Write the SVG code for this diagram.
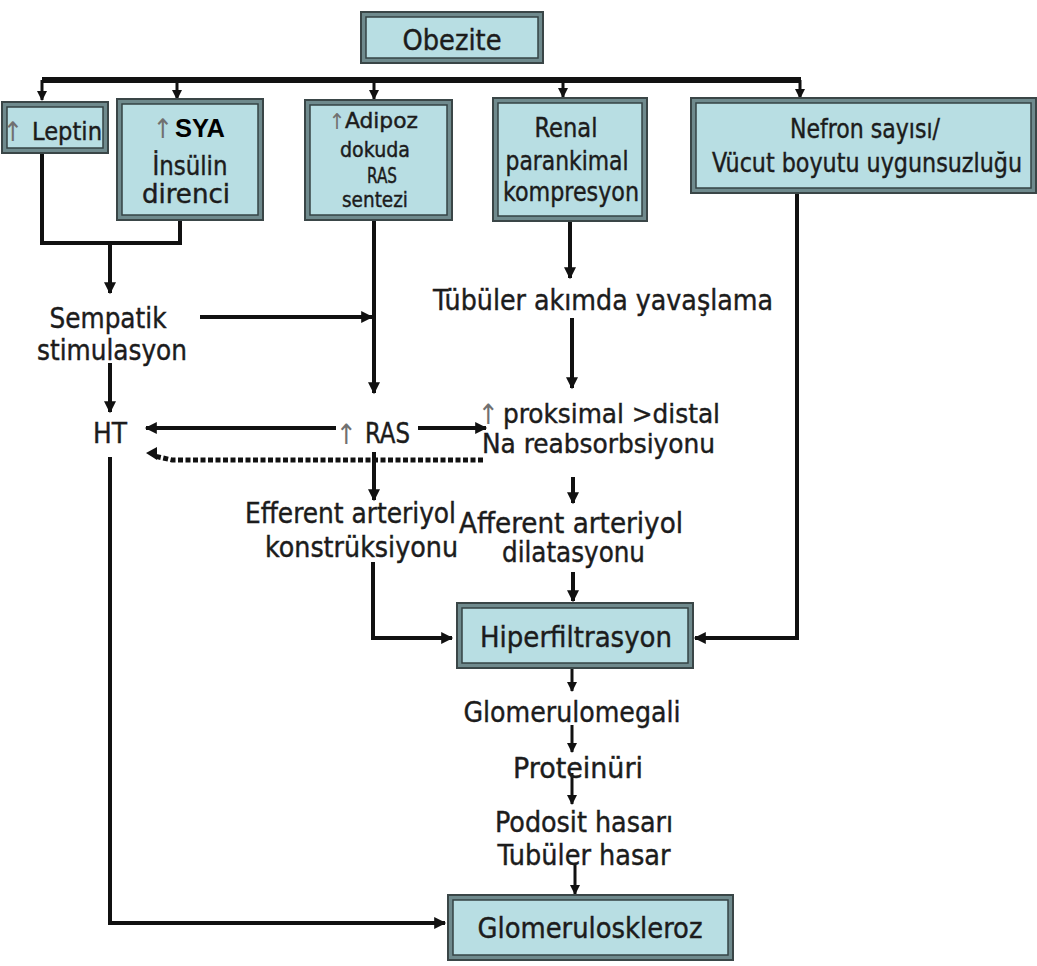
<svg xmlns="http://www.w3.org/2000/svg" width="1037" height="966" viewBox="0 0 1037 966">
<defs>
<style>
.bo{fill:#6f8a8d;stroke:#3a4647;stroke-width:2}
.bi{fill:#b8dee3;stroke:#354344;stroke-width:1.5}
.t{font-family:"DejaVu Sans Condensed","DejaVu Sans",sans-serif;fill:#1c1c1c;stroke:#1c1c1c;stroke-width:0.4;text-anchor:middle}
.s{text-anchor:start}
.up{font-family:"DejaVu Sans Condensed","DejaVu Sans",sans-serif;fill:#707070;text-anchor:middle}
.ln{fill:none;stroke:#111;stroke-width:4}
.lt{fill:none;stroke:#111;stroke-width:3}
.dot{fill:none;stroke:#111;stroke-width:5;stroke-dasharray:5 2.5}
</style>
<marker id="ah" viewBox="0 0 10 10" refX="9" refY="5" markerWidth="13" markerHeight="12" markerUnits="userSpaceOnUse" orient="auto"><path d="M0,0 L10,5 L0,10 z" fill="#111"/></marker>
<marker id="as" viewBox="0 0 10 10" refX="9" refY="5" markerWidth="10" markerHeight="10" markerUnits="userSpaceOnUse" orient="auto"><path d="M0,0 L10,5 L0,10 z" fill="#111"/></marker>
</defs>
<rect width="1037" height="966" fill="#fff"/>

<g id="connectors">
<path class="ln" d="M42,80 H801" style="stroke-width:6"/>
<path class="lt" d="M42,80 V100" marker-end="url(#as)"/>
<path class="lt" d="M177,80 V99" marker-end="url(#as)"/>
<path class="lt" d="M374,80 V99" marker-end="url(#as)"/>
<path class="lt" d="M563,80 V97" marker-end="url(#as)"/>
<path class="lt" d="M800,80 V98" marker-end="url(#as)"/>
<path class="ln" d="M42,153 V243 H180 V219"/>
<path class="ln" d="M110,243 V293" marker-end="url(#ah)"/>
<path class="ln" d="M200,317 H372" marker-end="url(#ah)"/>
<path class="ln" d="M374,219 V393" marker-end="url(#ah)"/>
<path class="ln" d="M110,363 V412" marker-end="url(#ah)"/>
<path class="ln" d="M336,428 H146" marker-end="url(#ah)"/>
<path class="ln" d="M418,428 H486" marker-end="url(#ah)"/>
<path class="dot" d="M483,460 H172 L154,456"/>
<path d="M146,453 L157,447 L157,460 z" fill="#111"/>
<path class="ln" d="M374,452 V500" marker-end="url(#ah)"/>
<path class="ln" d="M373,562 V638 H452" marker-end="url(#ah)"/>
<path class="ln" d="M570,221 V278" marker-end="url(#ah)"/>
<path class="ln" d="M572,318 V388" marker-end="url(#ah)"/>
<path class="ln" d="M573,477 V503" marker-end="url(#ah)"/>
<path class="ln" d="M573,572 V601" marker-end="url(#ah)"/>
<path class="ln" d="M797,193 V638 H695" marker-end="url(#ah)"/>
<path class="lt" d="M572,668 V691" marker-end="url(#as)"/>
<path class="lt" d="M572,725 V752" marker-end="url(#as)"/>
<path class="lt" d="M572,773 V804" marker-end="url(#as)"/>
<path class="lt" d="M575,863 V894" marker-end="url(#as)"/>
<path class="ln" d="M110,457 V923 H445" marker-end="url(#ah)"/>
</g>

<g id="obezite">
<rect class="bo" x="361" y="12" width="182" height="51"/>
<rect class="bi" x="366" y="17" width="172" height="41"/>
<text class="t" x="452" y="50" font-size="28" textLength="99" lengthAdjust="spacingAndGlyphs">Obezite</text>
</g>

<g id="leptin">
<rect class="bo" x="2" y="102" width="106" height="51"/>
<rect class="bi" x="7" y="107" width="96" height="41"/>
<text class="up" x="13" y="141" font-size="27">↑</text>
<text class="t s" x="32" y="140" font-size="25" textLength="70" lengthAdjust="spacingAndGlyphs">Leptin</text>
</g>

<g id="sya">
<rect class="bo" x="117" y="99" width="146" height="121"/>
<rect class="bi" x="122" y="104" width="136" height="111"/>
<text class="up" x="163" y="138" font-size="27">↑</text>
<text x="175" y="137" font-size="25" font-family="'Liberation Sans',Arial,sans-serif" font-weight="bold" fill="#000" textLength="50" lengthAdjust="spacingAndGlyphs">SYA</text>
<text class="t" x="190" y="175" font-size="26" textLength="75" lengthAdjust="spacingAndGlyphs">İnsülin</text>
<text class="t" x="186" y="203" font-size="26" textLength="88" lengthAdjust="spacingAndGlyphs">direnci</text>
</g>

<g id="adipoz">
<rect class="bo" x="305" y="100" width="147" height="120"/>
<rect class="bi" x="310" y="105" width="137" height="110"/>
<text class="up" x="337" y="129" font-size="22">↑</text>
<text class="t s" x="345" y="128" font-size="21" textLength="73" lengthAdjust="spacingAndGlyphs">Adipoz</text>
<text class="t" x="375" y="157" font-size="21" textLength="70" lengthAdjust="spacingAndGlyphs">dokuda</text>
<text class="t" x="382" y="183" font-size="21" textLength="30" lengthAdjust="spacingAndGlyphs">RAS</text>
<text class="t" x="375" y="207" font-size="21" textLength="66" lengthAdjust="spacingAndGlyphs">sentezi</text>
</g>

<g id="renal">
<rect class="bo" x="493" y="98" width="154" height="123"/>
<rect class="bi" x="498" y="103" width="144" height="113"/>
<text class="t" x="566" y="137" font-size="26" textLength="63" lengthAdjust="spacingAndGlyphs">Renal</text>
<text class="t" x="567" y="170" font-size="26" textLength="123" lengthAdjust="spacingAndGlyphs">parankimal</text>
<text class="t" x="571" y="201" font-size="26" textLength="136" lengthAdjust="spacingAndGlyphs">kompresyon</text>
</g>

<g id="nefron">
<rect class="bo" x="691" y="98" width="345" height="95"/>
<rect class="bi" x="696" y="103" width="335" height="85"/>
<text class="t" x="865" y="138" font-size="26" textLength="150" lengthAdjust="spacingAndGlyphs">Nefron sayısı/</text>
<text class="t" x="867" y="172" font-size="26" textLength="310" lengthAdjust="spacingAndGlyphs">Vücut boyutu uygunsuzluğu</text>
</g>

<g id="sempatik">
<text class="t" x="108" y="328" font-size="28" textLength="117" lengthAdjust="spacingAndGlyphs">Sempatik</text>
<text class="t" x="112" y="360" font-size="28" textLength="150" lengthAdjust="spacingAndGlyphs">stimulasyon</text>
</g>

<g id="tubuler">
<text class="t" x="603" y="310" font-size="28.5" textLength="340" lengthAdjust="spacingAndGlyphs">Tübüler akımda yavaşlama</text>
</g>

<g id="ht">
<text class="t" x="110" y="443" font-size="28" textLength="34" lengthAdjust="spacingAndGlyphs">HT</text>
</g>

<g id="ras">
<text class="up" x="346" y="444" font-size="28">↑</text>
<text class="t s" x="365" y="443" font-size="28" textLength="45" lengthAdjust="spacingAndGlyphs">RAS</text>
</g>

<g id="proksimal">
<text class="up" x="488" y="424" font-size="28">↑</text>
<text class="t s" x="503" y="423" font-size="27" textLength="217" lengthAdjust="spacingAndGlyphs">proksimal &gt;distal</text>
<text class="t s" x="482" y="453" font-size="27" textLength="233" lengthAdjust="spacingAndGlyphs">Na reabsorbsiyonu</text>
</g>

<g id="efferent">
<text class="t s" x="245" y="523" font-size="28" textLength="211" lengthAdjust="spacingAndGlyphs">Efferent arteriyol</text>
<text class="t s" x="265" y="557" font-size="28" textLength="193" lengthAdjust="spacingAndGlyphs">konstrüksiyonu</text>
</g>

<g id="afferent">
<text class="t s" x="459" y="533" font-size="28" textLength="224" lengthAdjust="spacingAndGlyphs">Afferent arteriyol</text>
<text class="t s" x="502" y="562" font-size="28" textLength="143" lengthAdjust="spacingAndGlyphs">dilatasyonu</text>
</g>

<g id="hiperfiltrasyon">
<rect class="bo" x="457" y="603" width="236" height="65"/>
<rect class="bi" x="462" y="608" width="226" height="55"/>
<text class="t" x="576" y="647" font-size="28.5" textLength="192" lengthAdjust="spacingAndGlyphs">Hiperfiltrasyon</text>
</g>

<g id="glomerulomegali">
<text class="t" x="572" y="722" font-size="28.5" textLength="217" lengthAdjust="spacingAndGlyphs">Glomerulomegali</text>
</g>

<g id="proteinuri">
<text class="t" x="578" y="778" font-size="28.5" textLength="130" lengthAdjust="spacingAndGlyphs">Proteinüri</text>
</g>

<g id="hasar">
<text class="t" x="584" y="832" font-size="28.5" textLength="178" lengthAdjust="spacingAndGlyphs">Podosit hasarı</text>
<text class="t" x="584" y="865" font-size="28.5" textLength="173" lengthAdjust="spacingAndGlyphs">Tubüler hasar</text>
</g>

<g id="glomeruloskleroz">
<rect class="bo" x="448" y="895" width="285" height="65"/>
<rect class="bi" x="453" y="900" width="275" height="55"/>
<text class="t" x="590" y="938" font-size="28.5" textLength="225" lengthAdjust="spacingAndGlyphs">Glomeruloskleroz</text>
</g>
</svg>
